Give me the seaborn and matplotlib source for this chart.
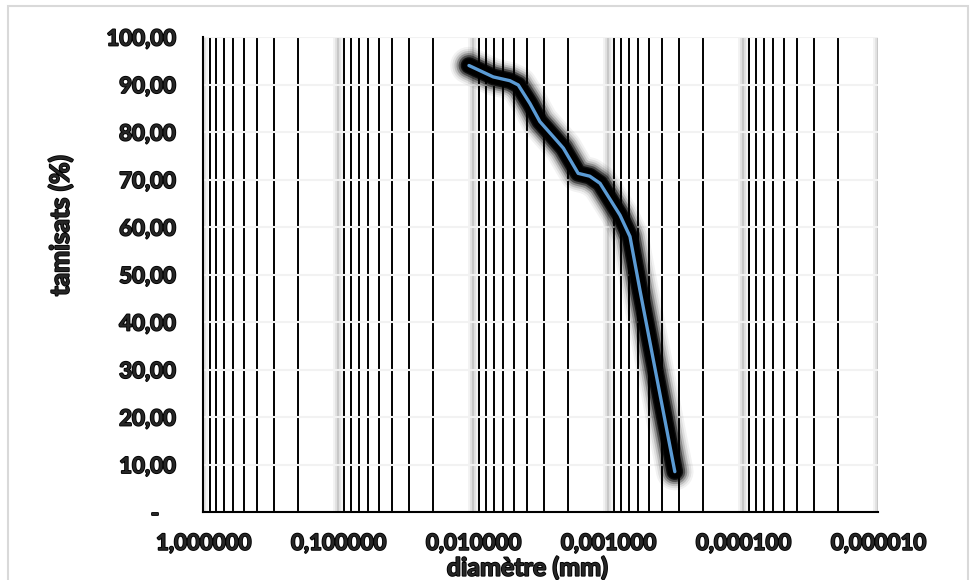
import numpy as np
import pandas as pd
import seaborn as sns
import matplotlib.pyplot as plt
import matplotlib.ticker as mticker
import matplotlib.patheffects as pe
from matplotlib.patches import Rectangle

# granulometric curve
diametre = [0.01076, 0.00711, 0.00535, 0.00464, 0.00380, 0.00321, 0.00255,
            0.00215, 0.00167, 0.00137, 0.00115, 0.000818, 0.000690,
            0.000582, 0.000321]
tamisats = [94.0, 91.6, 90.8, 89.9, 86.0, 82.2, 79.0, 76.6, 71.3, 70.7,
            69.2, 62.5, 58.0, 46.7, 8.5]

x_ticks = [1, 0.1, 0.01, 0.001, 0.0001, 0.00001]
y_ticks = [0, 10, 20, 30, 40, 50, 60, 70, 80, 90, 100]

df = pd.DataFrame({"diametre": diametre, "tamisats": tamisats})

sns.set_style("white")
plt.rcParams['font.family'] = ['Lato', 'DejaVu Sans']

fig = plt.figure(figsize=(9.78, 5.8), dpi=100)
ax = fig.add_axes([0.2079, 0.1172, 0.690, 0.819])

sns.lineplot(data=df, x="diametre", y="tamisats", sort=False, ax=ax,
             color="#5B9BD5", linewidth=2.4, zorder=5)
line = ax.lines[0]
line.set_solid_capstyle('round')
line.set_solid_joinstyle('round')
# soft black glow around the series
glow = []
for w, a in [(27, 0.05), (24, 0.08), (21, 0.14), (18, 0.25), (15, 0.45), (12, 0.8), (10, 1.0)]:
    glow.append(pe.Stroke(linewidth=w, foreground='black', alpha=a))
glow.append(pe.Normal())
line.set_path_effects(glow)

ax.set_xscale('log')
ax.set_xlim(1, 0.00001)
ax.set_ylim(0, 100)

ax.xaxis.set_major_locator(mticker.FixedLocator(x_ticks))
ax.xaxis.set_minor_locator(mticker.LogLocator(base=10, subs=np.arange(2, 10), numticks=20))
ax.xaxis.set_major_formatter(mticker.FuncFormatter(lambda v, p: f"{v:.6f}".replace('.', ',')))
ax.xaxis.set_minor_formatter(mticker.NullFormatter())
ax.set_yticks(y_ticks)
ax.yaxis.set_major_formatter(mticker.FuncFormatter(
    lambda v, p: "-   " if v == 0 else f"{v:.2f}".replace('.', ',')))

# grid
ax.grid(which='minor', axis='x', color='black', linewidth=1.4, zorder=1)
ax.grid(which='major', axis='x', color='#c4c4c4', linewidth=1.2, zorder=1)
ax.grid(which='major', axis='y', color='#f2f2f2', linewidth=1.5, zorder=0)
for gl in ax.get_xgridlines():
    gl.set_path_effects([
        pe.Stroke(linewidth=7, foreground='#f2f2f2'),
        pe.Stroke(linewidth=4, foreground='#e0e0e0'),
        pe.Normal(),
    ])
ax.set_axisbelow(True)

for s in ['top', 'right']:
    ax.spines[s].set_visible(False)
ax.spines['bottom'].set_color('black')
ax.spines['bottom'].set_linewidth(1.5)
ax.spines['left'].set_color('black')
ax.spines['left'].set_linewidth(1.5)

ax.tick_params(axis='x', which='major', direction='inout', length=10, width=2,
               color='black', labelsize=16, pad=10)
ax.tick_params(axis='x', which='minor', direction='out', length=4, width=1.4,
               color='black')
ax.tick_params(axis='y', which='both', length=0, labelsize=16, pad=20)

# heavier text (the reference uses a very bold face)
fat = [pe.withStroke(linewidth=1.3, foreground='black')]
for lab in ax.get_xticklabels() + ax.get_yticklabels():
    lab.set_fontweight('bold')
    lab.set_path_effects(fat)

ax.set_xlabel("diamètre (mm)", fontsize=18, fontweight='bold', path_effects=fat)
ax.set_ylabel("tamisats (%)", fontsize=19, fontweight='bold', path_effects=fat)
ax.xaxis.set_label_coords(0.48, -0.093)
ax.yaxis.set_label_coords(-0.193, 0.603)

fig.add_artist(Rectangle((8 / 978, -0.1), 960 / 978, 1 - 6 / 580 + 0.1,
                         transform=fig.transFigure, fill=False,
                         edgecolor='#d9d9d9', linewidth=1.5))

plt.savefig("out.png", dpi=100)
plt.close()
